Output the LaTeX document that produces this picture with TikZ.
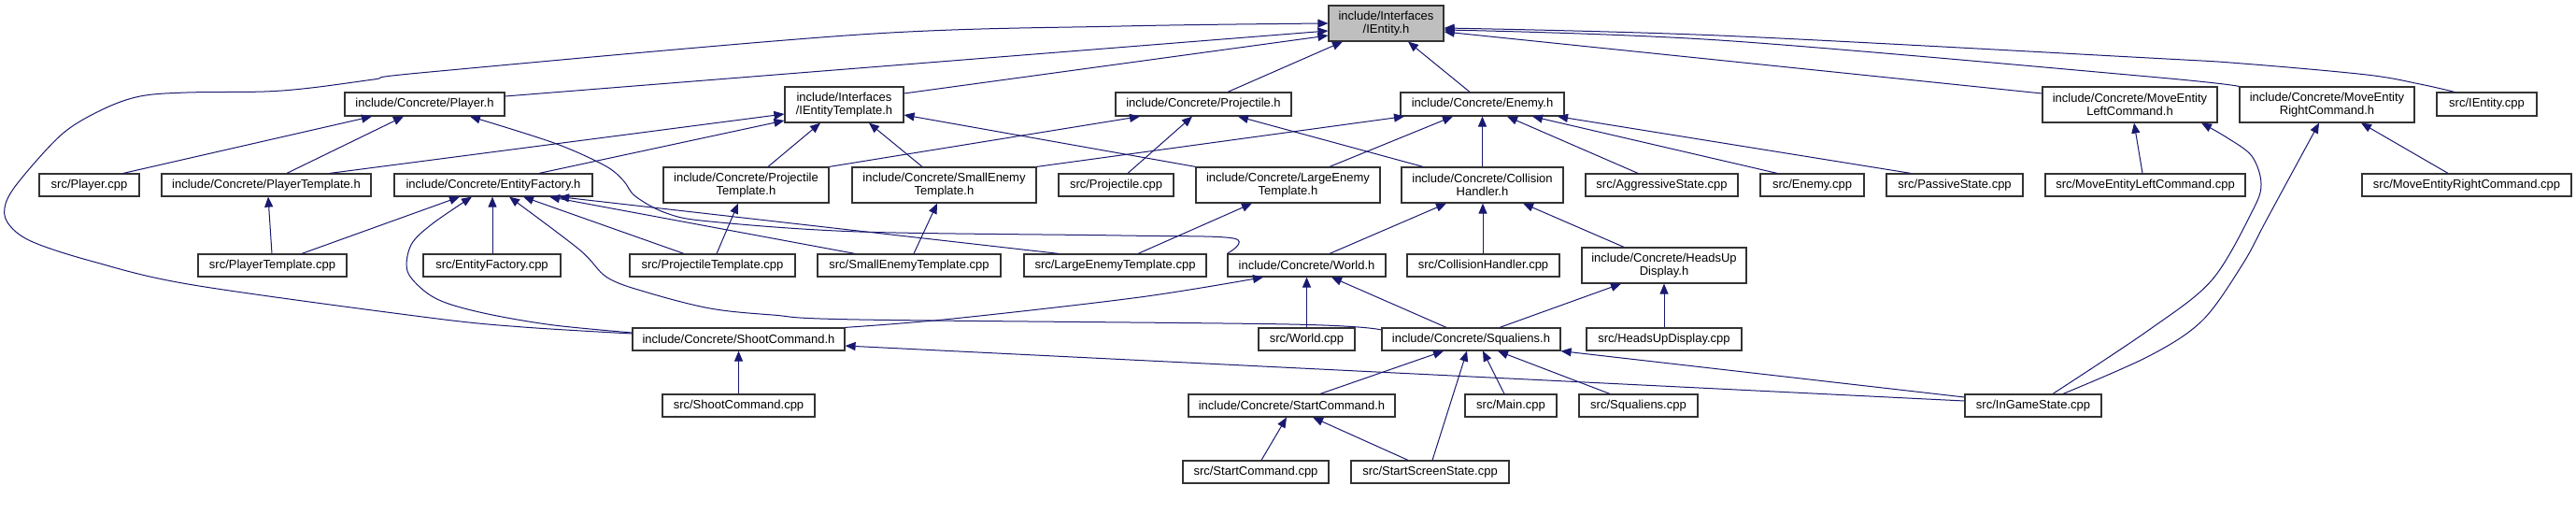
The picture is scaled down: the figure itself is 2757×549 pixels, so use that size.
\documentclass[tikz,border=0pt]{standalone}
\usepackage{fontspec}
\setmainfont{Liberation Sans}
\usetikzlibrary{arrows.meta}
\definecolor{edgecol}{HTML}{191970}
\definecolor{boxline}{HTML}{333333}
\definecolor{rootfill}{HTML}{BFBFBF}
\newcommand\mkbox[7][]{\node[box,#1,minimum width={(#5-#3)*1pt},minimum height={(#6-#4)*1pt}] (#2) at ({(#3+#5)/2},{(#4+#6)/2}) {#7};}
\begin{document}
\begin{tikzpicture}[x=1pt,y=-1pt,
  box/.style={draw=boxline,line width=1.2pt,fill=white,inner sep=0pt,align=center,font=\fontsize{13}{14}\selectfont},
  dep/.style={draw=edgecol,line width=1pt,-{Triangle[length=11pt,width=9pt]}},
  curv/.style={dep,smooth,tension=0.55}]
\fill[white] (0,0) rectangle (2757,549);
\useasboundingbox (0,0) rectangle (2757,549);
% row 0
\mkbox[fill=rootfill]{ient}{1422}{6}{1545}{44}{include/Interfaces\\/IEntity.h}
% row 1
\mkbox{playerh}{369}{99}{540}{124}{include/Concrete/Player.h}
\mkbox{ietmpl}{840}{93}{967}{131}{include/Interfaces\\/IEntityTemplate.h}
\mkbox{projh}{1194}{99}{1382}{124}{include/Concrete/Projectile.h}
\mkbox{enemyh}{1499}{99}{1674}{124}{include/Concrete/Enemy.h}
\mkbox{melh}{2186}{93}{2373}{131}{include/Concrete/MoveEntity\\LeftCommand.h}
\mkbox{merh}{2397}{93}{2584}{131}{include/Concrete/MoveEntity\\RightCommand.h}
\mkbox{ientcpp}{2608}{99}{2715}{124}{src/IEntity.cpp}
% row 2
\mkbox{playercpp}{42}{186}{149}{210}{src/Player.cpp}
\mkbox{ptmplh}{173}{186}{397}{210}{include/Concrete/PlayerTemplate.h}
\mkbox{efh}{422}{186}{634}{210}{include/Concrete/EntityFactory.h}
\mkbox{projtmplh}{710}{179}{887}{217}{include/Concrete/Projectile\\Template.h}
\mkbox{smalltmplh}{912}{179}{1109}{217}{include/Concrete/SmallEnemy\\Template.h}
\mkbox{projcpp}{1133}{186}{1256}{210}{src/Projectile.cpp}
\mkbox{largetmplh}{1280}{179}{1477}{217}{include/Concrete/LargeEnemy\\Template.h}
\mkbox{collh}{1500}{179}{1673}{217}{include/Concrete/Collision\\Handler.h}
\mkbox{aggcpp}{1697}{186}{1860}{210}{src/AggressiveState.cpp}
\mkbox{enemycpp}{1884}{186}{1995}{210}{src/Enemy.cpp}
\mkbox{passcpp}{2019}{186}{2165}{210}{src/PassiveState.cpp}
\mkbox{melcpp}{2189}{186}{2403}{210}{src/MoveEntityLeftCommand.cpp}
\mkbox{mercpp}{2528}{186}{2752}{210}{src/MoveEntityRightCommand.cpp}
% row 3
\mkbox{ptmplcpp}{212}{272}{371}{296}{src/PlayerTemplate.cpp}
\mkbox{efcpp}{453}{272}{600}{296}{src/EntityFactory.cpp}
\mkbox{projtmplcpp}{674}{272}{851}{296}{src/ProjectileTemplate.cpp}
\mkbox{smalltmplcpp}{875}{272}{1071}{296}{src/SmallEnemyTemplate.cpp}
\mkbox{largetmplcpp}{1096}{272}{1291}{296}{src/LargeEnemyTemplate.cpp}
\mkbox{worldh}{1314}{272}{1483}{296}{include/Concrete/World.h}
\mkbox{collcpp}{1506}{272}{1669}{296}{src/CollisionHandler.cpp}
\mkbox{hudh}{1693}{265}{1869}{303}{include/Concrete/HeadsUp\\Display.h}
% row 4
\mkbox{shooth}{677}{351}{904}{375}{include/Concrete/ShootCommand.h}
\mkbox{worldcpp}{1347}{351}{1450}{375}{src/World.cpp}
\mkbox{squalh}{1479}{351}{1670}{375}{include/Concrete/Squaliens.h}
\mkbox{hudcpp}{1698}{351}{1864}{375}{src/HeadsUpDisplay.cpp}
% row 5
\mkbox{shootcpp}{709}{422}{872}{446}{src/ShootCommand.cpp}
\mkbox{starth}{1272}{422}{1493}{446}{include/Concrete/StartCommand.h}
\mkbox{maincpp}{1568}{422}{1666}{446}{src/Main.cpp}
\mkbox{squalcpp}{1690}{422}{1817}{446}{src/Squaliens.cpp}
\mkbox{ingamecpp}{2103}{422}{2249}{446}{src/InGameState.cpp}
% row 6
\mkbox{startcpp}{1266}{493}{1422}{517}{src/StartCommand.cpp}
\mkbox{startscreencpp}{1446}{493}{1615}{517}{src/StartScreenState.cpp}

% ---- edges into IEntity.h
\draw[dep] (playerh.east |- 0,103) -- (ient.west |- 0,33);
\draw[dep] (ietmpl.east |- 0,100) -- (ient.west |- 0,38);
\draw[curv] plot coordinates {(shooth.west |- 0,357) (560,350) (460,340) (207,305) (100,280) (33,258) (8,238) (6,218) (22,192) (67,143) (110,117) (150,103) (200,99) (283,98) (333,94) (400,85) (460,77) (920,37) (1200,28) (ient.west)};
\draw[dep] (1314,0 |- projh.north) -- (1437,0 |- ient.south);
\draw[dep] (1573,0 |- enemyh.north) -- (1507,0 |- ient.south);
\draw[dep] (melh.west |- 0,100) -- (ient.east |- 0,34);
\draw[curv] plot coordinates {(merh.north west) (2300,82) (1840,43) (ient.east |- 0,32)};
\draw[curv] plot coordinates {(2627,0 |- ientcpp.north) (2590,90) (2533,80) (2400,68) (2300,62) (1840,38) (ient.east |- 0,30)};
% ---- Player.h
\draw[dep] (132,0 |- playercpp.north) -- (398,0 |- playerh.south);
\draw[dep] (307,0 |- ptmplh.north) -- (432,0 |- playerh.south);
\draw[curv] plot coordinates {(worldh.north west) (1320,255) (1200,252) (920,248) (760,237) (713,228) (680,210) (667,193) (647,177) (593,153) (503,0 |- playerh.south)};
% ---- IEntityTemplate.h
\draw[dep] (353,0 |- ptmplh.north) -- (ietmpl.west |- 0,122);
\draw[dep] (577,0 |- efh.north) -- (ietmpl.west |- 0,129);
\draw[dep] (822,0 |- projtmplh.north) -- (878,0 |- ietmpl.south);
\draw[dep] (987,0 |- smalltmplh.north) -- (930,0 |- ietmpl.south);
\draw[dep] (largetmplh.north west) -- (ietmpl.east |- 0,123);
% ---- Projectile.h
\draw[dep] (projtmplh.north east) -- (1220,0 |- projh.south);
\draw[dep] (1207,0 |- projcpp.north) -- (1276,0 |- projh.south);
\draw[dep] (1523,0 |- collh.north) -- (1325,0 |- projh.south);
% ---- Enemy.h
\draw[dep] (smalltmplh.north east) -- (1503,0 |- enemyh.south);
\draw[dep] (1423,0 |- largetmplh.north) -- (1555,0 |- enemyh.south);
\draw[dep] (collh.north) -- (enemyh.south);
\draw[dep] (1753,0 |- aggcpp.north) -- (1613,0 |- enemyh.south);
\draw[dep] (1902,0 |- enemycpp.north) -- (1640,0 |- enemyh.south);
\draw[dep] (2045,0 |- passcpp.north) -- (1667,0 |- enemyh.south);
% ---- CollisionHandler.h
\draw[dep] (1423,0 |- worldh.north) -- (1548,0 |- collh.south);
\draw[dep] (1587,0 |- collcpp.north) -- (1587,0 |- collh.south);
\draw[dep] (1738,0 |- hudh.north) -- (1630,0 |- collh.south);
% ---- World.h
\draw[dep] (worldcpp.north) -- (worldh.south);
\draw[dep] (1548,0 |- squalh.north) -- (1425,0 |- worldh.south);
\draw[curv] plot coordinates {(shooth.north east) (1020,341) (1220,318) (1352,0 |- worldh.south)};
% ---- HeadsUpDisplay.h
\draw[dep] (1605,0 |- squalh.north) -- (1735,0 |- hudh.south);
\draw[dep] (hudcpp.north) -- (hudh.south);
% ---- Squaliens.h
\draw[dep] (1413,0 |- starth.north) -- (1545,0 |- squalh.south);
\draw[dep] (1533,0 |- startscreencpp.north) -- (1570,0 |- squalh.south);
\draw[dep] (1610,0 |- maincpp.north) -- (1587,0 |- squalh.south);
\draw[dep] (1723,0 |- squalcpp.north) -- (1603,0 |- squalh.south);
\draw[dep] (ingamecpp.west |- 0,425) -- (squalh.south east);
% ---- EntityFactory.h
\draw[curv] plot coordinates {(squalh.west |- 0,353) (1380,347) (920,342) (827,337) (760,330) (693,313) (650,297) (620,267) (545,0 |- efh.south)};
\draw[curv] plot coordinates {(shooth.west |- 0,356) (593,348) (527,337) (480,325) (455,312) (436,290) (440,262) (462,240) (505,0 |- efh.south)};
\draw[dep] (323,0 |- ptmplcpp.north) -- (492,0 |- efh.south);
\draw[dep] (527,0 |- efcpp.north) -- (527,0 |- efh.south);
\draw[dep] (732,0 |- projtmplcpp.north) -- (560,0 |- efh.south);
\draw[dep] (915,0 |- smalltmplcpp.north) -- (588,0 |- efh.south);
\draw[dep] (1133,0 |- largetmplcpp.north) -- (598,0 |- efh.south);
% ---- template headers
\draw[dep] (291,0 |- ptmplcpp.north) -- (287,0 |- ptmplh.south);
\draw[dep] (767,0 |- projtmplcpp.north) -- (790,0 |- projtmplh.south);
\draw[dep] (978,0 |- smalltmplcpp.north) -- (1003,0 |- smalltmplh.south);
\draw[dep] (1218,0 |- largetmplcpp.north) -- (1340,0 |- largetmplh.south);
% ---- ShootCommand.h
\draw[dep] (shootcpp.north) -- (shooth.south);
\draw[dep] (ingamecpp.west |- 0,429) -- (shooth.east |- 0,370);
% ---- StartCommand.h
\draw[dep] (1350,0 |- startcpp.north) -- (1377,0 |- starth.south);
\draw[dep] (1507,0 |- startscreencpp.north) -- (1405,0 |- starth.south);
% ---- MoveEntity commands
\draw[dep] (2293,0 |- melcpp.north) -- (2284,0 |- melh.south);
\draw[curv] plot coordinates {(2197,0 |- ingamecpp.north) (2300,353) (2367,300) (2410,227) (2420,197) (2410,167) (2383,147) (2356,0 |- melh.south)};
\draw[curv] plot coordinates {(2208,0 |- ingamecpp.north) (2300,381) (2357,343) (2400,283) (2427,233) (2482,0 |- merh.south)};
\draw[dep] (2620,0 |- mercpp.north) -- (2527,0 |- merh.south);
\end{tikzpicture}
\end{document}
